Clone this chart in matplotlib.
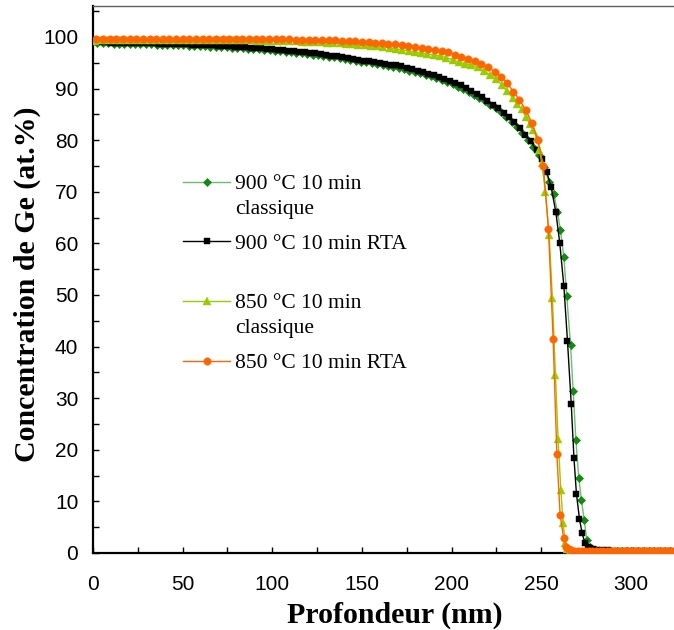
import matplotlib
matplotlib.use("Agg")
import matplotlib.pyplot as plt
from matplotlib.ticker import MultipleLocator

# ---------------- data ----------------
labels = ["900 °C 10 min", "900 °C 10 min RTA", "850 °C 10 min", "850 °C 10 min RTA"]
sub_label = "classique"

# 900 °C 10 min classique (green diamonds)
x_900_cl = [2.5, 5.5, 8.5, 11.5, 14.5, 17.5, 20.5, 23.5, 26.5, 29.5, 32.5, 35.5, 38.5, 41.5,
            44.5, 47.5, 50.5, 53.5, 56.5, 59.5, 62.5, 65.5, 68.5, 71.5, 74.5, 77.5, 80.5, 83.5,
            86.5, 89.5, 92.5, 95.5, 98.5, 101.5, 104.5, 107.5, 110.5, 113.5, 116.5, 119.5,
            122.5, 125.5, 128.5, 131.5, 134.5, 137.5, 140.5, 143.5, 146.5, 149.5, 152.5, 155.5,
            158.5, 161.5, 164.5, 167.5, 170.5, 173.5, 176.5, 179.5, 182.5, 185.5, 188.5, 191.5,
            194.5, 197.5, 200.5, 203.5, 206.5, 209.5, 212.5, 215.5, 218.5, 221.5, 224.5, 227.5,
            230.5, 233.5, 236.5, 239.5, 242.5, 245.5, 248.5, 251.5, 254.4, 257.0, 259.0, 260.7,
            262.6, 264.2, 266.3, 267.8, 269.3, 270.9, 272.4, 273.9, 275.4, 277.0, 278.5, 280.5,
            283, 286, 289, 292, 295, 298, 301, 304, 307, 310, 313, 316, 319, 322, 325]
y_900_cl = [98.8, 98.8, 98.8, 98.7, 98.7, 98.7, 98.7, 98.6, 98.6, 98.6,
            98.6, 98.5, 98.5, 98.5, 98.4, 98.4, 98.4, 98.3, 98.3, 98.2,
            98.2, 98.1, 98.1, 98.0, 98.0, 97.9, 97.8, 97.8, 97.7, 97.6,
            97.6, 97.5, 97.4, 97.3, 97.2, 97.1, 97.0, 96.9, 96.8, 96.7,
            96.6, 96.5, 96.4, 96.2, 96.1, 95.9, 95.7, 95.6, 95.4, 95.2,
            95.1, 94.9, 94.7, 94.6, 94.4, 94.2, 94.0, 93.8, 93.5, 93.3,
            93.0, 92.7, 92.4, 92.0, 91.6, 91.2, 90.8, 90.4, 89.9, 89.4,
            88.8, 88.2, 87.6, 86.9, 86.2, 85.4, 84.5, 83.6, 82.5, 81.3,
            80.0, 78.6, 77.1, 74.8, 71.8, 69.6, 66.1, 62.5,
            57.3, 49.8, 40.4, 31.3, 21.9, 14.6, 10.3, 6.4, 2.5, 1.2, 0.7, 0.5,
            0.4, 0.4, 0.3, 0.3, 0.3, 0.3, 0.3, 0.3, 0.3, 0.3, 0.3, 0.3, 0.3, 0.3, 0.3]

# 900 °C 10 min RTA (black squares)
x_900_rta = [1, 4, 7, 10, 13, 16, 19, 22, 25, 28, 31, 34, 37, 40, 43, 46, 49, 52, 55, 58, 61,
             64, 67, 70, 73, 76, 79, 82, 85, 88, 91, 94, 97, 100, 103, 106, 109, 112, 115, 118,
             121, 124, 127, 130, 133, 136, 139, 142, 145, 148, 151, 154, 157, 160, 163, 166,
             169, 172, 175, 178, 181, 184, 187, 190, 193, 196, 199, 202, 205, 208, 211, 214,
             217, 220, 223, 226, 229, 232, 235, 238, 241, 244, 247.5, 250.3, 253.1, 255.5,
             258.1, 260.3, 262.6, 264.6, 266.7, 268.2, 269.6, 271.3, 272.8, 274.3, 275.8,
             277.4, 279, 281, 284, 287, 290, 293, 296, 299, 302, 305, 308, 311, 314, 317,
             320, 323, 326]
y_900_rta = [99.0, 99.0, 99.0, 98.9, 98.9, 98.9, 98.9, 98.9, 98.8, 98.8, 98.8, 98.8, 98.7, 98.7,
             98.7, 98.7, 98.6, 98.6, 98.5, 98.5, 98.5, 98.4, 98.4, 98.3, 98.3, 98.2, 98.1, 98.1,
             98.0, 97.9, 97.9, 97.8, 97.7, 97.6, 97.5, 97.4, 97.3, 97.2, 97.1, 97.0, 96.9, 96.8,
             96.7, 96.6, 96.4, 96.3, 96.1, 95.9, 95.8, 95.6, 95.4, 95.3, 95.1, 95.0, 94.8, 94.6,
             94.5, 94.3, 94.0, 93.8, 93.5, 93.2, 92.9, 92.6, 92.2, 91.8, 91.4, 91.0, 90.6, 90.1,
             89.5, 88.9, 88.3, 87.6, 86.9, 86.2, 85.3, 84.4, 83.5, 82.3, 81.0, 79.8, 78.0, 76.3,
             73.8, 70.9, 66.1, 60.1, 51.7, 41.1, 28.9, 18.5, 11.5, 6.6, 3.8, 2.0, 1.2,
             0.9, 0.7, 0.6, 0.5, 0.5, 0.4, 0.4, 0.4, 0.3, 0.3, 0.3, 0.3, 0.3, 0.3, 0.3,
             0.3, 0.3, 0.3]

# 850 °C 10 min classique (lime triangles)
x_850_cl = [1, 4.5, 8, 11.5, 15, 18.5, 22, 25.5, 29, 32.5, 36, 39.5, 43, 46.5, 50, 53.5, 57,
            60.5, 64, 67.5, 71, 74.5, 78, 81.5, 85, 88.5, 92, 95.5, 99, 102.5, 106, 109.5, 113,
            116.5, 120, 123.5, 127, 130.5, 134, 137.5, 141, 144.5, 148, 151.5, 155, 158.5, 162,
            165.5, 169, 172.5, 176, 179.5, 183, 186.5, 190, 193.5, 197, 200.5, 204, 207.5,
            211, 214.5, 218, 221.5, 225, 228, 231, 234, 236.5, 239, 241.5, 243.5, 245.5,
            247.5, 249, 250.3, 252.3, 254.4, 256.2, 257.9, 259.4, 260.9, 262.2, 263.3, 264.5,
            265.8, 267, 269.5, 272, 274.5, 277, 279.5, 282, 284.5, 287, 289.5, 292, 294.5,
            297, 299.5, 302, 304.5, 307, 309.5, 312, 314.5, 317, 319.5, 322, 324.5]
y_850_cl = [99.2, 99.4, 99.5, 99.5, 99.5, 99.5, 99.5, 99.5, 99.5, 99.5, 99.5, 99.5, 99.5, 99.5,
            99.5, 99.5, 99.5, 99.4, 99.4, 99.4, 99.4, 99.4, 99.4, 99.4, 99.4, 99.4, 99.3, 99.3,
            99.3, 99.3, 99.2, 99.2, 99.2, 99.1, 99.1, 99.0, 99.0, 98.9, 98.9, 98.8, 98.7, 98.6,
            98.5, 98.4, 98.3, 98.2, 98.0, 97.9, 97.7, 97.5, 97.3, 97.1, 96.9, 96.7, 96.5, 96.3,
            96.0, 95.6, 95.1, 94.8, 94.5, 94.1, 93.4, 92.7, 91.8, 90.7, 89.5, 88.2, 87.1,
            86.0, 84.5, 83.2, 82.0, 80.4, 78.1, 75.5, 69.9, 61.6, 49.4, 34.4, 22.0, 12.2, 5.8,
            2.0, 0.8, 0.3, 0.1, 0.05, 0.05, 0.05, 0.05, 0.05, 0.05, 0.05, 0.05, 0.05, 0.05,
            0.05, 0.05, 0.05, 0.05, 0.05, 0.05, 0.05, 0.05, 0.05, 0.05, 0.05, 0.05, 0.05]

# 850 °C 10 min RTA (orange circles)
x_850_rta = [2.0, 5.7, 9.4, 13.1, 16.8, 20.5, 24.2, 27.9, 31.6, 35.3, 39.0, 42.7, 46.4, 50.1,
             53.8, 57.5, 61.2, 64.9, 68.6, 72.3, 76.0, 79.7, 83.4, 87.1, 90.8, 94.5, 98.2,
             101.9, 105.6, 109.3, 113.0, 116.7, 120.4, 124.1, 127.8, 131.5, 135.2, 138.9,
             142.6, 146.3, 150.0, 153.7, 157.4, 161.1, 164.8, 168.5, 172.2, 175.9, 179.6,
             183.3, 187.0, 190.7, 194.4, 198.1, 201.8, 205.5, 209.2, 212.9, 216.6, 220.4,
             224.2, 227.7, 231.1, 234.5, 237.8, 241.3, 244.7, 248.1, 251.2, 254.0, 256.6,
             258.7, 260.5, 262.4, 263.9, 265.3, 266.8, 268.5, 270.5, 272.5, 274.5, 276.5,
             278.5, 280.5, 282.5, 284.5, 286.5, 288.5, 290.5, 292.5, 294.5, 296.5, 298.5,
             300.5, 302.5, 304.5, 306.5, 308.5, 310.5, 312.5, 314.5, 316.5, 318.5, 320.5,
             322.5, 324.5, 326.5]
y_850_rta = [99.6, 99.7, 99.7, 99.7, 99.7, 99.7, 99.7, 99.7, 99.7, 99.7, 99.7, 99.7, 99.7, 99.7,
             99.7, 99.7, 99.7, 99.7, 99.7, 99.7, 99.7, 99.7, 99.7, 99.7, 99.7, 99.7, 99.6,
             99.6, 99.6, 99.6, 99.5, 99.5, 99.5, 99.5, 99.4, 99.4, 99.4, 99.3,
             99.3, 99.2, 99.1, 99.0, 98.9, 98.8, 98.7, 98.6, 98.4, 98.3, 98.1,
             97.9, 97.7, 97.5, 97.3, 97.0, 96.6, 96.2, 95.8, 95.3, 94.7, 94.1,
             93.3, 92.3, 91.0, 89.4, 87.8, 85.9, 83.4, 80.0, 74.9, 62.8, 41.5,
             19.1, 7.4, 3.0, 1.2, 0.7, 0.5, 0.4, 0.4, 0.3, 0.3, 0.3,
             0.3, 0.3, 0.3, 0.3, 0.3, 0.3, 0.3, 0.3, 0.3, 0.3, 0.3,
             0.3, 0.3, 0.3, 0.3, 0.3, 0.3, 0.3, 0.3, 0.3, 0.3, 0.3,
             0.3, 0.3, 0.3]

x_ticks = [0, 50, 100, 150, 200, 250, 300]
y_ticks = [0, 10, 20, 30, 40, 50, 60, 70, 80, 90, 100]
x_label = "Profondeur (nm)"
y_label = "Concentration de Ge (at.%)"

# ---------------- figure ----------------
W, H = 674, 630
fig = plt.figure(figsize=(W / 100, H / 100), dpi=100)
ax_l, ax_r, ax_b, ax_t = 92.9, 674.0, 553.0, 6.0
ax = fig.add_axes([ax_l / W, 1 - ax_b / H, (ax_r - ax_l) / W, (ax_b - ax_t) / H])
ax.set_xlim(0, 324)
ax.set_ylim(0, 106)

serif = ["Liberation Serif", "DejaVu Serif"]
sans = ["Liberation Sans", "DejaVu Sans"]

ax.plot(x_900_cl, y_900_cl, color="#6cbf6c", lw=1.0, marker="D", ms=3.6,
        mfc="#148a14", mec="#148a14", mew=0.5, zorder=2, label=labels[0])
ax.plot(x_900_rta, y_900_rta, color="black", lw=1.0, marker="s", ms=5.0,
        mfc="black", mec="black", mew=0.3, zorder=3, label=labels[1])
ax.plot(x_850_cl, y_850_cl, color="#99cc00", lw=1.0, marker="^", ms=5.4,
        mfc="#99cc00", mec="#99cc00", mew=0.3, zorder=4, label=labels[2])
ax.plot(x_850_rta, y_850_rta, color="#ff6600", lw=1.0, marker="o", ms=5.4,
        mfc="#ff6600", mec="#ff6600", mew=0.3, zorder=5, label=labels[3])

# spines
ax.spines["right"].set_visible(False)
ax.spines["left"].set_linewidth(1.6)
ax.spines["bottom"].set_linewidth(1.6)
ax.spines["top"].set_linewidth(1.0)
ax.spines["top"].set_color("#606060")

# ticks
ax.set_xticks(x_ticks)
ax.set_yticks(y_ticks)
ax.xaxis.set_minor_locator(MultipleLocator(25))
ax.yaxis.set_minor_locator(MultipleLocator(5))
ax.tick_params(axis="both", which="both", direction="in", length=4, width=1.0,
               top=False, right=False)
ax.tick_params(axis="x", which="major", pad=15.5)
ax.tick_params(axis="y", which="major", pad=10.5)
for lab in ax.get_xticklabels() + ax.get_yticklabels():
    lab.set_family(sans)
    lab.set_fontsize(15)

# axis labels
ax.set_xlabel(x_label, family=serif, fontsize=21.5, fontweight="bold")
ax.set_ylabel(y_label, family=serif, fontsize=21.5, fontweight="bold")
ax.xaxis.label.set_va("baseline")
ax.xaxis.set_label_coords((395 - ax_l) / (ax_r - ax_l), (ax_b - 623) / (ax_b - ax_t))
ax.yaxis.label.set_va("center")
ax.yaxis.label.set_ha("center")
ax.yaxis.set_label_coords((27 - ax_l) / (ax_r - ax_l), (ax_b - 284) / (ax_b - ax_t))

# legend
leg = ax.legend(loc="upper left", bbox_to_anchor=(183.3 / W, 1 - 174.0 / H),
                bbox_transform=fig.transFigure, frameon=False, borderpad=0,
                borderaxespad=0, handlelength=2.17, handletextpad=0.25,
                labelspacing=1.84, prop={"family": serif, "size": 15.5})
for idx in (0, 2):
    ax.annotate(sub_label, xy=(0, 0), xycoords=leg.texts[idx], xytext=(0, -25),
                textcoords="offset pixels", ha="left", va="bottom",
                family=serif, fontsize=15.5, zorder=10, annotation_clip=False)

fig.savefig("out.png", dpi=100)
